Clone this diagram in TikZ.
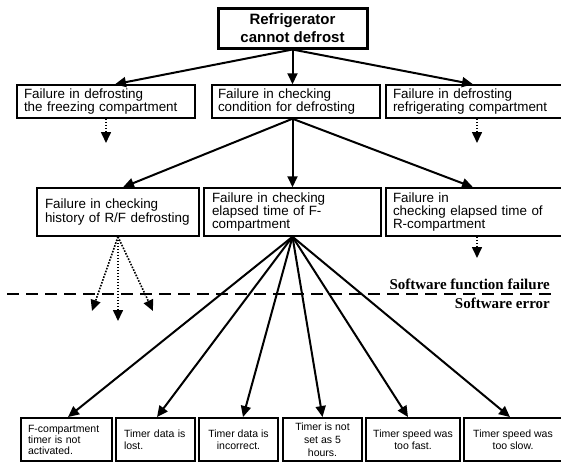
\documentclass[tikz,border=0pt]{standalone}
\usepackage{fontspec}
\setmainfont{Liberation Serif}
\newfontfamily\arialfam{Liberation Sans}
\usetikzlibrary{arrows.meta}
\newcommand\bxfont{\arialfam\fontsize{13.4pt}{13.4pt}\selectfont}
\newcommand\smfont{\arialfam\fontsize{10.5pt}{12pt}\selectfont}
\tikzset{
  tip/.style={-{Triangle[length=11pt,width=10pt]}},
  solidarrow/.style={tip, line width=2pt},
  dotarrow/.style={tip, line width=1.6pt, dash pattern=on 1.6pt off 1.4pt},
  lbox/.style n args={3}{draw, line width=1.5pt, inner ysep=0pt, inner xsep=#3,
    text width=#1, minimum height=#2, align=left, font=\bxfont},
  sbox/.style n args={2}{draw, line width=1.9pt, inner sep=0pt,
    minimum width=#1, minimum height=#2, align=center, font=\smfont},
  slbox/.style n args={3}{draw, line width=1.9pt, inner ysep=0pt, inner xsep=#3,
    text width=#1, minimum height=#2, align=left, font=\smfont},
  layer/.style={anchor=base east, font=\bfseries\fontsize{15pt}{15pt}\selectfont, inner sep=0pt},
}
\begin{document}
\begin{tikzpicture}[x=1pt,y=-1pt]
\useasboundingbox (0,0) rectangle (561,463);

% top event
\node[draw, line width=3pt, minimum width=149pt, minimum height=40pt, inner sep=0pt,
      align=center, font=\arialfam\bfseries\fontsize{15pt}{18pt}\selectfont]
  (top) at (292.5,28) {Refrigerator\\cannot defrost};

% second row
\node[lbox={164pt}{33pt}{7pt}] (A) at (106,101.5) {Failure in defrosting\\the freezing compartment};
\node[lbox={156pt}{33pt}{6pt}] (B) at (296,101.5) {Failure in checking\\condition for defrosting};
\node[lbox={162pt}{33pt}{7pt}] (C) at (474,101.5) {Failure in defrosting\\refrigerating compartment};

% third row
\node[lbox={146pt}{48pt}{8pt}] (D) at (118,212) {Failure in checking\\history of R/F defrosting};
\node[lbox={161pt}{48pt}{8pt}] (E) at (292.5,212) {Failure in checking\\elapsed time of F-\\compartment};
\node[lbox={162pt}{48pt}{7pt}] (F) at (474,212) {Failure in\\checking elapsed time of\\R-compartment};

% bottom row
\node[slbox={77pt}{43pt}{7pt}, font=\arialfam\fontsize{10.5pt}{11pt}\selectfont] (b1) at (66.5,439.5) {F-compartment\\timer is not\\activated.};
\node[slbox={63pt}{43pt}{8pt}] (b2) at (155.5,439.5) {Timer data is\\lost.};
\node[sbox={79pt}{43pt}] (b3) at (238.5,439.5) {Timer data is\\incorrect.};
\node[sbox={79pt}{43pt}, font=\arialfam\fontsize{10.5pt}{13pt}\selectfont] (b4) at (322.5,439.5) {Timer is not\\set as 5\\hours.};
\node[sbox={94pt}{43pt}] (b5) at (413,439.5) {Timer speed was\\too fast.};
\node[sbox={98pt}{43pt}] (b6) at (513,439.5) {Timer speed was\\too slow.};

% free ends of the dotted arrows
\coordinate (a1) at (106,143);
\coordinate (c1) at (477,143);
\coordinate (d1) at (92,311);
\coordinate (d2) at (118,321);
\coordinate (d3) at (153,311);
\coordinate (f1) at (477,258);

% software layer line
\coordinate (sl) at (7,294);
\coordinate (sr) at (553,294);
\draw[line width=1.6pt, dash pattern=on 12pt off 7pt] (sl) -- (sr);
\node[layer] (sff) at (550,289) {Software function failure};
\node[layer] (se) at (550,308) {Software error};

% solid arrows
\draw[solidarrow] (top.south) -- ([xshift=9pt]A.north);
\draw[solidarrow] (top.south) -- (top.south |- B.north);
\draw[solidarrow] (top.south) -- ([xshift=-1pt]C.north);
\draw[solidarrow] (top.south |- B.south) -- ([xshift=5pt]D.north);
\draw[solidarrow] (top.south |- B.south) -- (E.north);
\draw[solidarrow] (top.south |- B.south) -- ([xshift=-1pt]F.north);

\draw[solidarrow] (E.south) -- ([xshift=1.5pt]b1.north);
\draw[solidarrow] (E.south) -- ([xshift=1.5pt]b2.north);
\draw[solidarrow] (E.south) -- ([xshift=4.5pt]b3.north);
\draw[solidarrow] (E.south) -- (b4.north);
\draw[solidarrow] (E.south) -- ([xshift=-5pt]b5.north);
\draw[solidarrow] (E.south) -- ([xshift=-3pt]b6.north);

% dotted arrows
\draw[dotarrow] (A.south) -- (a1);
\draw[dotarrow] (c1 |- C.south) -- (c1);
\draw[dotarrow] (D.south) -- (d1);
\draw[dotarrow] (D.south) -- (d2);
\draw[dotarrow] (D.south) -- (d3);
\draw[dotarrow] (f1 |- F.south) -- (f1);
\end{tikzpicture}
\end{document}
